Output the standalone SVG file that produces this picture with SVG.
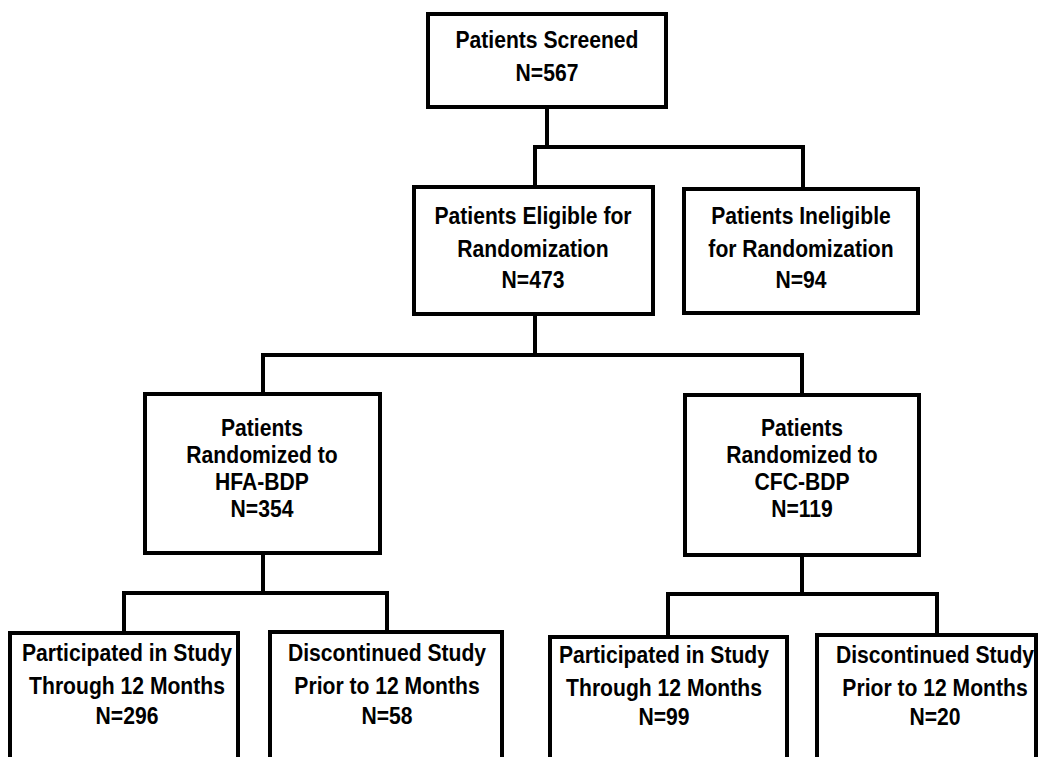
<svg xmlns="http://www.w3.org/2000/svg" width="1039" height="757" viewBox="0 0 1039 757">
<style>
.box{fill:#fff;stroke:#000;stroke-width:4}
.ln{fill:none;stroke:#000;stroke-width:4;stroke-linejoin:miter}
.t{font-family:"Liberation Sans",Arial,sans-serif;font-weight:bold;font-size:24px;fill:#000;text-anchor:middle}
</style>
<rect width="1039" height="757" fill="#fff"/>
<g id="connectors">
<path class="ln" d="M547 107V147M535 187V147H803V189"/>
<path class="ln" d="M535 314V355M263 394V355H802V395"/>
<path class="ln" d="M263 553V593M124 633V593H387V632"/>
<path class="ln" d="M802 555V594M668 637V594H937V635"/>
</g>
<g id="screened">
<rect class="box" x="428" y="14" width="238" height="93"/>
<text class="t" transform="translate(547 48) scale(0.88 1)">Patients Screened</text>
<text class="t" transform="translate(547 81) scale(0.88 1)">N=567</text>
</g>
<g id="eligible">
<rect class="box" x="414" y="187" width="239" height="127"/>
<text class="t" transform="translate(533 224) scale(0.88 1)">Patients Eligible for</text>
<text class="t" transform="translate(533 257) scale(0.88 1)">Randomization</text>
<text class="t" transform="translate(533 288) scale(0.88 1)">N=473</text>
</g>
<g id="ineligible">
<rect class="box" x="684" y="189" width="234" height="124"/>
<text class="t" transform="translate(801 224) scale(0.88 1)">Patients Ineligible</text>
<text class="t" transform="translate(801 257) scale(0.88 1)">for Randomization</text>
<text class="t" transform="translate(801 288) scale(0.88 1)">N=94</text>
</g>
<g id="hfa">
<rect class="box" x="145" y="394" width="235" height="159"/>
<text class="t" transform="translate(262 436) scale(0.88 1)">Patients</text>
<text class="t" transform="translate(262 463) scale(0.88 1)">Randomized to</text>
<text class="t" transform="translate(262 490) scale(0.88 1)">HFA-BDP</text>
<text class="t" transform="translate(262 517) scale(0.88 1)">N=354</text>
</g>
<g id="cfc">
<rect class="box" x="685" y="395" width="234" height="160"/>
<text class="t" transform="translate(802 436) scale(0.88 1)">Patients</text>
<text class="t" transform="translate(802 463) scale(0.88 1)">Randomized to</text>
<text class="t" transform="translate(802 490) scale(0.88 1)">CFC-BDP</text>
<text class="t" transform="translate(802 517) scale(0.88 1)">N=119</text>
</g>
<g id="hfa-participated">
<rect class="box" x="10" y="633" width="228" height="140"/>
<text class="t" transform="translate(127 661) scale(0.88 1)">Participated in Study</text>
<text class="t" transform="translate(127 694) scale(0.88 1)">Through 12 Months</text>
<text class="t" transform="translate(127 724) scale(0.88 1)">N=296</text>
</g>
<g id="hfa-discontinued">
<rect class="box" x="270" y="632" width="232" height="140"/>
<text class="t" transform="translate(387 661) scale(0.88 1)">Discontinued Study</text>
<text class="t" transform="translate(387 694) scale(0.88 1)">Prior to 12 Months</text>
<text class="t" transform="translate(387 724) scale(0.88 1)">N=58</text>
</g>
<g id="cfc-participated">
<rect class="box" x="550" y="637" width="237" height="140"/>
<text class="t" transform="translate(664 663) scale(0.88 1)">Participated in Study</text>
<text class="t" transform="translate(664 696) scale(0.88 1)">Through 12 Months</text>
<text class="t" transform="translate(664 725) scale(0.88 1)">N=99</text>
</g>
<g id="cfc-discontinued">
<rect class="box" x="817" y="635" width="219" height="140"/>
<text class="t" transform="translate(935 663) scale(0.88 1)">Discontinued Study</text>
<text class="t" transform="translate(935 696) scale(0.88 1)">Prior to 12 Months</text>
<text class="t" transform="translate(935 725) scale(0.88 1)">N=20</text>
</g>
</svg>
